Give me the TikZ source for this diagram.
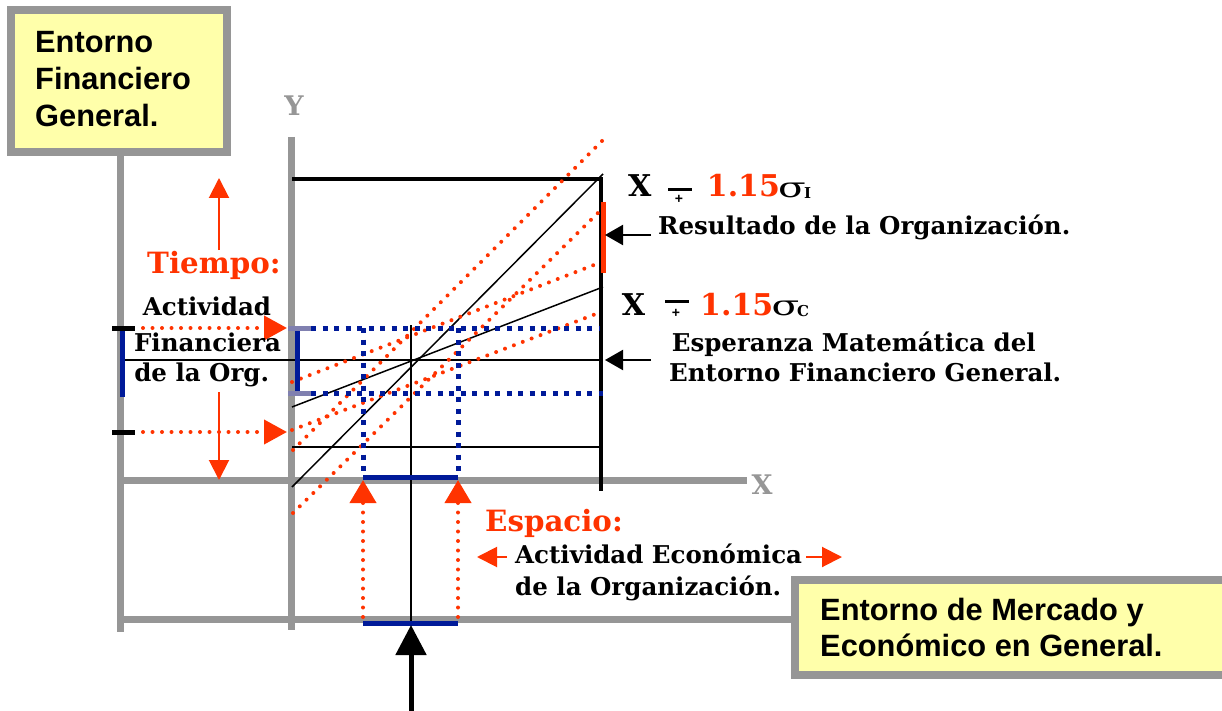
\documentclass[tikz,border=0pt]{standalone}
\usepackage{fontspec}
\newfontfamily\serf{DejaVu Serif}
\newfontfamily\sansf{Liberation Sans}
\usetikzlibrary{arrows.meta}
\definecolor{gr}{RGB}{150,150,150}
\definecolor{ylw}{RGB}{255,255,170}
\definecolor{rd}{RGB}{255,51,0}
\definecolor{nv}{RGB}{0,26,153}
\definecolor{lav}{RGB}{128,128,176}
\tikzset{
  graybar/.style={draw=gr, line width=7pt},
  thinblk/.style={draw=black, line width=1.5pt},
  thickblk/.style={draw=black, line width=3.5pt},
  reddot/.style={draw=rd, line width=4pt, line cap=round, dash pattern=on 0pt off 9.5pt},
  bluedot/.style={draw=nv, line width=5pt, dash pattern=on 5pt off 6.5pt},
  bluebar/.style={draw=nv, line width=5pt},
  lavbar/.style={draw=lav, line width=5pt},
  blkbar/.style={draw=black, line width=5pt},
  ybox/.style={draw=gr, line width=8pt, fill=ylw},
  boxtxt/.style={font=\sansf\bfseries\fontsize{30.8}{36}\selectfont, inner sep=0pt, anchor=base west},
  lbl/.style={font=\serf\bfseries\fontsize{24.5}{28}\selectfont, inner sep=0pt, anchor=base west},
  redlbl/.style={font=\serf\bfseries\fontsize{29.3}{32}\selectfont, text=rd, inner sep=0pt, anchor=base west},
  biglbl/.style={font=\serf\bfseries\fontsize{30}{33}\selectfont, inner sep=0pt, anchor=base west},
  sigmalbl/.style={font=\serf\fontsize{28}{30}\selectfont, inner sep=0pt, anchor=base west},
  sublbl/.style={font=\serf\bfseries\fontsize{15}{17}\selectfont, inner sep=0pt, anchor=base west},
  pmlbl/.style={font=\sansf\bfseries\fontsize{14}{15}\selectfont, inner sep=0pt, anchor=center},
  axlbl/.style={font=\serf\bfseries\fontsize{27}{30}\selectfont, text=gr, inner sep=0pt},
  redarrow/.style={draw=rd, line width=2pt, -{Triangle[length=20pt,width=20pt]}, rd},
  reddotarrow/.style={reddot, -{Triangle[length=23pt,width=24pt]}},
  blkarrow/.style={draw=black, line width=2pt, -{Triangle[length=18pt,width=20pt]}},
}
\begin{document}
\begin{tikzpicture}[x=1pt,y=-1pt]
\useasboundingbox (0,0) rectangle (1222,711);
% coordinates
\coordinate (gL1) at (120,152); \coordinate (gL2) at (120,632);
\coordinate (yA1) at (291,137); \coordinate (yA2) at (291,630);
\coordinate (xA1) at (117,480); \coordinate (xA2) at (747,480);
\coordinate (gB1) at (117,619); \coordinate (gB2) at (795,619);
% gray structure
\draw[graybar] (gL1) -- (gL2);
\draw[graybar] (yA1) -- (yA2);
\draw[graybar] (xA1) -- (xA2);
\draw[graybar] (gB1) -- (gB2);
\node[axlbl] (ylab) at (294,106) {Y};
\node[axlbl] (xlab) at (762,485) {X};
% black frame
\coordinate (tl) at (292,179); \coordinate (tr) at (601,179); \coordinate (br) at (601,491);
\draw[thickblk] (tl) -- (602.7,179);
\draw[thickblk] (601,177.3) -- (br);
% thin black lines
\coordinate (s1) at (292,487); \coordinate (s2) at (603,174);
\coordinate (h1) at (292,407); \coordinate (h2) at (603,287);
\coordinate (m1) at (120,360); \coordinate (m2) at (603,360);
\coordinate (l1) at (292,447); \coordinate (l2) at (603,447);
\coordinate (v1) at (411,325); \coordinate (v2) at (411,624);
\draw[thinblk] (s1) -- (s2);
\draw[thinblk] (h1) -- (h2);
\draw[thinblk] (m1) -- (m2);
\draw[thinblk] (l1) -- (l2);
\draw[thinblk] (v1) -- (v2);
% red dotted lines
\coordinate (ra1) at (293,513); \coordinate (ra2) at (603,208);
\coordinate (rb1) at (293,450); \coordinate (rb2) at (603,140);
\coordinate (rc1) at (292,430); \coordinate (rc2) at (601,312);
\coordinate (rd1) at (292,382); \coordinate (rd2) at (599,263);
\draw[reddot] (ra1) -- (ra2);
\draw[reddot] (rb1) -- (rb2);
\draw[reddot] (rc1) -- (rc2);
\draw[reddot] (rd1) -- (rd2);
% red segment on the right
\coordinate (rs1) at (603,202); \coordinate (rs2) at (603,273);
\draw[draw=rd, line width=5pt] (rs1) -- (rs2);
% blue dotted rectangle lines
\coordinate (bt1) at (311,328); \coordinate (bt2) at (600,328);
\coordinate (bb1) at (311,393); \coordinate (bb2) at (603,393);
\coordinate (bl1) at (363,328); \coordinate (bl2) at (363,473);
\coordinate (bR1) at (458,328); \coordinate (bR2) at (458,473);
\draw[bluedot] (bt1) -- (bt2);
\draw[bluedot] (bb1) -- (bb2);
\draw[bluedot] (bl1) -- (bl2);
\draw[bluedot] (bR1) -- (bR2);
% blue solid bars
\coordinate (xb1) at (363,477); \coordinate (xb2) at (458,477);
\coordinate (xc1) at (363,623.5); \coordinate (xc2) at (458,623.5);
\draw[bluebar] (xb1) -- (xb2);
\draw[bluebar] (xc1) -- (xc2);
% I-shape on y axis
\draw[bluebar] (297,328) -- (297,393);
\draw[lavbar] (288,328) -- (311,328);
\draw[lavbar] (288,393) -- (311,393);
% left marks
\draw[bluebar] (122,328) -- (122,397);
\draw[blkbar] (112,328) -- (135,328);
\draw[blkbar] (112,432) -- (135,432);
% red dotted arrows
\coordinate (ha1) at (143,328); \coordinate (ha2) at (287,328);
\coordinate (hb1) at (143,432); \coordinate (hb2) at (287,432);
\draw[reddotarrow] (ha1) -- (ha2);
\draw[reddotarrow] (hb1) -- (hb2);
\coordinate (va1) at (363,617); \coordinate (va2) at (363,480);
\coordinate (vb1) at (458,617); \coordinate (vb2) at (458,480);
\draw[reddot, -{Triangle[length=23pt,width=26pt]}] (va1) -- (va2);
\draw[reddot, -{Triangle[length=23pt,width=26pt]}] (vb1) -- (vb2);
% Tiempo arrows
\coordinate (tu1) at (219,250); \coordinate (tu2) at (219,178);
\coordinate (td1) at (219,392); \coordinate (td2) at (219,480);
\draw[redarrow] (tu1) -- (tu2);
\draw[redarrow] (td1) -- (td2);
% Espacio arrows
\coordinate (el1) at (507,557); \coordinate (el2) at (477,557);
\coordinate (er1) at (806,557); \coordinate (er2) at (842,557);
\draw[redarrow] (el1) -- (el2);
\draw[redarrow] (er1) -- (er2);
% black arrows right
\coordinate (ka1) at (651,235); \coordinate (ka2) at (605,235);
\coordinate (kb1) at (651,360); \coordinate (kb2) at (605,360);
\draw[blkarrow] (ka1) -- (ka2);
\draw[blkarrow] (kb1) -- (kb2);
% bottom arrow
\coordinate (ba1) at (411,711); \coordinate (ba2) at (411,625);
\draw[draw=black, line width=5pt, -{Triangle[length=30pt,width=30pt]}] (ba1) -- (ba2);
% top-left box
\draw[ybox] (11,10) rectangle (227,152);
\node[boxtxt] (efg1) at (35,53) {Entorno};
\node[boxtxt] (efg2) at (35,90) {Financiero};
\node[boxtxt] (efg3) at (35,126.7) {General.};
% bottom-right box
\draw[ybox] (795,580) rectangle (1240,675);
\node[boxtxt] (em1) at (820,620) {Entorno de Mercado y};
\node[boxtxt] (em2) at (820,656.7) {Económico en General.};
% left labels
\node[redlbl] (tiempo) at (147,273) {Tiempo:};
\node[lbl, anchor=base] (af1) at (207,315) {Actividad};
\node[lbl, anchor=base] (af2) at (207.5,351.7) {Financiera};
\node[lbl, anchor=base] (af3) at (201.7,381.7) {de la Org.};
% right labels
\node[biglbl] (x1) at (628,196.7) {X};
\draw[line width=2.8pt] (668,189.3) -- (692,189.3);
\node[pmlbl] (pm1) at (679,199.5) {+};
\node[biglbl, text=rd] (n1) at (706.7,196.7) {1.15};
\node[sigmalbl] (sg1) at (778,197.5) {\scalebox{1.45}[1]{σ}};
\node[sublbl] (si1) at (804,198.5) {I};
\node[lbl] (res) at (658,235) {Resultado de la Organización.};
\node[biglbl] (x2) at (621.7,315) {X};
\draw[line width=2.8pt] (665,301.7) -- (689,301.7);
\node[pmlbl] (pm2) at (676,313) {+};
\node[biglbl, text=rd] (n2) at (700,315) {1.15};
\node[sigmalbl] (sg2) at (771.5,315.5) {\scalebox{1.45}[1]{σ}};
\node[sublbl] (sc2) at (797,316.5) {C};
\node[lbl] (esp1) at (671.7,351.7) {Esperanza Matemática del};
\node[lbl] (esp2) at (669,381.7) {Entorno Financiero General.};
% bottom labels
\node[redlbl] (espacio) at (485,531.7) {Espacio:};
\node[lbl] (ae1) at (515,563) {Actividad Económica};
\node[lbl] (ae2) at (515,595) {de la Organización.};
\end{tikzpicture}
\end{document}
